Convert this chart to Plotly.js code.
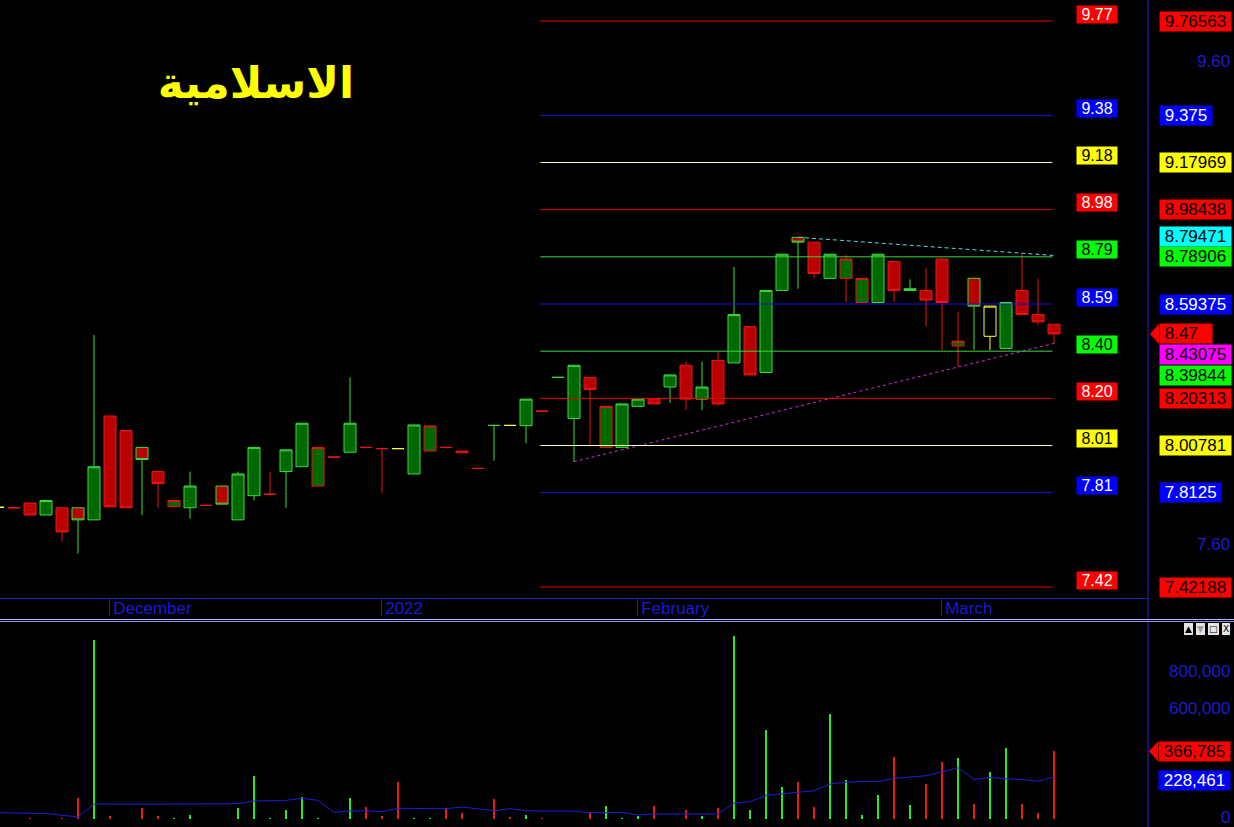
<!DOCTYPE html>
<html>
<head>
<meta charset="utf-8">
<script src="https://cdn.plot.ly/plotly-3.0.1.min.js"></script>
<style>
html,body{margin:0;padding:0;background:#000;}
#chart{width:1234px;height:827px;}
</style>
</head>
<body>
<div id="chart"></div>
<script>
// ---------------- DATA ----------------
const chartTitle = 'الاسلامية';
// trading-session index (one per candle)
const session = Array.from({length: 67}, (_, k) => k - 1);

const openP = [7.752,7.75,7.77,7.72,7.75,7.75,7.70,8.13,8.07,8.00,7.90,7.755,7.75,7.76,7.84,7.70,7.80,7.806,7.90,7.92,7.84,
  7.96,7.98,8.00,7.995,7.995,7.89,7.985,8.00,7.985,7.913,8.091,8.091,8.09,8.15,8.29,8.12,8.29,8.00,8.00,8.17,
  8.20,8.25,8.34,8.20,8.36,8.35,8.50,8.31,8.65,8.87,8.85,8.70,8.70,8.60,8.60,8.77,8.65,8.65,8.78,8.42,
  8.70,8.46,8.41,8.65,8.55,8.51];
const highP = [7.752,7.75,7.77,7.78,7.75,7.75,8.465,8.13,8.07,8.00,7.90,7.78,7.90,7.76,7.84,7.90,8.00,7.90,7.99,8.10,8.00,
  7.96,8.29,8.00,7.995,7.995,8.093,8.089,8.00,7.985,7.913,8.091,8.091,8.20,8.15,8.29,8.34,8.29,8.17,8.18,8.20,
  8.20,8.30,8.355,8.355,8.396,8.748,8.50,8.65,8.80,8.87,8.85,8.80,8.797,8.70,8.80,8.77,8.696,8.742,8.78,8.562,
  8.70,8.585,8.60,8.804,8.698,8.51];
const lowP = [7.752,7.75,7.72,7.72,7.61,7.56,7.70,7.754,7.75,7.72,7.75,7.755,7.705,7.76,7.765,7.70,7.78,7.806,7.75,7.92,7.84,
  7.96,7.98,8.00,7.812,7.995,7.89,7.985,8.00,7.978,7.913,7.945,8.091,8.017,8.15,8.29,7.941,8.003,8.00,8.00,8.17,
  8.18,8.185,8.155,8.155,8.171,8.35,8.30,8.31,8.65,8.657,8.703,8.70,8.601,8.60,8.60,8.603,8.65,8.50,8.403,8.334,
  8.403,8.403,8.41,8.55,8.507,8.431];
const closeP = [7.752,7.75,7.72,7.78,7.65,7.70,7.92,7.754,7.75,7.95,7.85,7.78,7.84,7.76,7.765,7.89,8.00,7.806,7.99,8.10,8.00,
  7.96,8.10,8.00,7.995,7.995,8.093,8.089,8.00,7.978,7.913,8.091,8.091,8.20,8.15,8.29,8.34,8.24,8.17,8.18,8.20,
  8.18,8.30,8.20,8.25,8.18,8.55,8.30,8.65,8.80,8.85,8.72,8.80,8.78,8.70,8.80,8.65,8.657,8.61,8.60,8.44,
  8.585,8.585,8.60,8.55,8.52,8.47];

const volume = [0,0,7000,0,7000,115000,968000,18000,0,58000,18000,3000,22000,0,0,61000,234000,8000,49000,121000,3000,
  0,115000,67000,18000,202000,5000,5000,61000,34000,2000,108000,12000,22000,3000,0,0,40000,70000,4000,18000,
  72000,0,49000,18000,58000,991000,49000,481000,175000,200000,67000,568000,211000,22000,131000,337000,76000,189000,310000,332000,
  81000,252000,386000,81000,31000,366785];
const volumeRising = [0,0,0,0,0,0,1,0,0,0,0,1,1,0,0,1,1,1,1,1,1,
  0,1,0,0,0,1,1,0,0,0,0,0,1,0,0,0,0,1,1,1,
  0,0,0,1,0,1,1,1,1,0,0,1,1,1,1,0,1,0,0,1,
  0,1,1,0,0,0];
const volumeAvg = [34000,34000,34000,30000,20000,12000,81000,80000,80000,80000,80000,81000,81000,80000,79000,83000,97000,99000,101000,112000,101000,
  36000,43000,45000,40000,58000,56000,56000,56000,65000,56000,45000,56000,45000,43000,43000,43000,34000,34000,36000,22000,
  27000,27000,27000,27000,27000,86000,94000,128000,135000,146000,153000,189000,200000,202000,202000,220000,229000,234000,256000,277000,
  214000,225000,218000,214000,204000,228461];

// Fibonacci levels drawn on the right part of the chart
const fibLevels = [9.76563, 9.375, 9.17969, 8.98438, 8.78906, 8.59375, 8.39844, 8.20313, 8.00781, 7.8125, 7.42188];
const fibHue    = ['red','blue','yellow','red','green','blue','green','red','yellow','blue','red'];
const fibFrom = 32.9, fibTo = 64.9;

// trend lines
const resistX = [49, 65], resistY = [8.87, 8.79471];
const supportX = [35, 65], supportY = [7.941, 8.43075];

const lastPrice = 8.47;
const lastVolume = 366785;
const lastVolumeAvg = 228461;

const monthTickAt = [5.95, 22.95, 38.95, 57.95];
const monthLabels = ['December', '2022', 'February', 'March'];
const priceTickVals = [9.60, 7.60];
const volumeTickVals = [800000, 600000, 0];

// ---------------- STYLE ----------------
const FONT = 'Liberation Sans, Arial, sans-serif';
const AXIS_BLUE = '#1c1cc8';
const lineCol = {red:'#f00000', blue:'#1414d8', yellow:'#ffffb0', green:'#3ad83a', cyan:'#00ffff', magenta:'#ff00ff'};
const boxCol  = {red:'#ff0000', blue:'#0000ff', yellow:'#ffff00', green:'#00ff00', cyan:'#00ffff', magenta:'#ff00ff'};
const candleFill = {up:'#006800', down:'#b80000', flat:'#000000'};
const candleEdge = {up:'#3cdc3c', down:'#ee1414', flat:'#ffff30'};

const xRange = [-0.875, 70.875];
const xDom = [0, 1148/1234];
const priceRange = [7.3764, 9.8526];
const volRange = [-43000, 1065000];

// ---------------- CANDLE TRACES (grouped by colour scheme) ----------------
const groups = {};
for (let k = 0; k < session.length; k++) {
  const prev = k > 0 ? closeP[k-1] : closeP[k];
  const edge = closeP[k] > prev ? 'up' : (closeP[k] < prev ? 'down' : 'flat');
  let fill = closeP[k] > openP[k] ? 'up' : (closeP[k] < openP[k] ? 'down' : edge);
  if (edge === 'flat') fill = 'flat';
  const key = edge + '|' + fill;
  if (!groups[key]) groups[key] = {x:[],open:[],high:[],low:[],close:[],edge:edge,fill:fill};
  const g = groups[key];
  g.x.push(session[k]); g.open.push(openP[k]); g.high.push(highP[k]); g.low.push(lowP[k]); g.close.push(closeP[k]);
}
const traces = [];
Object.values(groups).forEach(g => {
  const st = {line:{color:candleEdge[g.edge], width:1}, fillcolor:candleFill[g.fill]};
  traces.push({type:'candlestick', x:g.x, open:g.open, high:g.high, low:g.low, close:g.close,
    increasing:st, decreasing:st, whiskerwidth:0, xaxis:'x', yaxis:'y', showlegend:false, hoverinfo:'skip'});
});

// trend lines
traces.push({type:'scatter', mode:'lines', x:resistX, y:resistY, line:{color:'#55dddd', width:1, dash:'4px,3px'},
  xaxis:'x', yaxis:'y', showlegend:false, hoverinfo:'skip'});
traces.push({type:'scatter', mode:'lines', x:supportX, y:supportY, line:{color:'#d030d0', width:1, dash:'3px,3px'},
  xaxis:'x', yaxis:'y', showlegend:false, hoverinfo:'skip'});

// volume bars
traces.push({type:'bar', x:session, y:volume, width:0.17,
  marker:{color:volumeRising.map(u => u ? '#2ee82e' : '#ea1a1a'), line:{width:0}},
  xaxis:'x2', yaxis:'y2', showlegend:false, hoverinfo:'skip'});
traces.push({type:'scatter', mode:'lines', x:session, y:volumeAvg, line:{color:'#1e1ed2', width:1},
  xaxis:'x2', yaxis:'y2', showlegend:false, hoverinfo:'skip'});

// ---------------- SHAPES ----------------
const shapes = [];
fibLevels.forEach((v, k) => {
  shapes.push({type:'line', xref:'x', yref:'y', x0:fibFrom, x1:fibTo, y0:v, y1:v,
    line:{color:lineCol[fibHue[k]], width:1}});
});
// separators
shapes.push({type:'line', xref:'paper', yref:'paper', x0:1148/1234, x1:1148/1234, y0:0, y1:1, line:{color:'#2424c8', width:1}});
shapes.push({type:'line', xref:'paper', yref:'paper', x0:0, x1:1, y0:1-619.5/827, y1:1-619.5/827, line:{color:'#b4b4ff', width:1}});
shapes.push({type:'line', xref:'paper', yref:'paper', x0:0, x1:1, y0:1-621.5/827, y1:1-621.5/827, line:{color:'#8c8cf0', width:1}});
// arrow tips for last-value markers
shapes.push({type:'path', xref:'paper', xsizemode:'pixel', xanchor:1159/1234, yref:'y', ysizemode:'pixel', yanchor:lastPrice,
  path:'M 0 -10 L -9 0 L 0 10 Z', fillcolor:'#ff0000', line:{width:0}});
shapes.push({type:'path', xref:'paper', xsizemode:'pixel', xanchor:1158/1234, yref:'y2', ysizemode:'pixel', yanchor:lastVolume,
  path:'M 0 -10 L -9 0 L 0 10 Z', fillcolor:'#ff0000', line:{width:0}});

// ---------------- ANNOTATIONS ----------------
const NB = '\u00A0';
const ann = [];
function box(text, xref, x, xanchor, yref, y, bg, fg, size, yshift) {
  ann.push({text:text, xref:xref, x:x, xanchor:xanchor, yref:yref, y:y, yanchor:'middle', yshift:yshift||0,
    showarrow:false, bgcolor:bg, borderpad:0, font:{family:FONT, size:size, color:fg}});
}
// left labels on the fib lines
fibLevels.forEach((v, k) => {
  const h = fibHue[k];
  const fg = (h === 'yellow' || h === 'green') ? '#000' : '#fff';
  box(NB + v.toFixed(2) + NB, 'x', 67.7, 'center', 'y', v, boxCol[h], fg, 16, 7);
});
// right axis plain ticks
priceTickVals.forEach(v => box(v.toFixed(2), 'paper', 1231/1234, 'right', 'y', v, 'rgba(0,0,0,0)', AXIS_BLUE, 17, 0));
// right axis value boxes
const rightX = 1159/1234;
const rightBoxes = fibLevels.map((v, k) => ({v:v, hue:fibHue[k], shift:0}));
rightBoxes.push({v:resistY[1], hue:'cyan', shift:19});
rightBoxes.push({v:supportY[1], hue:'magenta', shift:-11});
rightBoxes.forEach(b => {
  let s = b.shift;
  if (b.v === 8.39844) s = -24;
  const fg = b.hue === 'blue' ? '#fff' : '#000';
  box(NB + String(b.v) + NB, 'paper', rightX, 'left', 'y', b.v, boxCol[b.hue], fg, 17, s);
});
box(NB + lastPrice.toFixed(2) + NB + NB + NB, 'paper', rightX, 'left', 'y', lastPrice, '#ff0000', '#000', 17, 0);

// volume axis
volumeTickVals.forEach(v => box(v.toLocaleString('en-US'), 'paper', 1231/1234, 'right', 'y2', v, 'rgba(0,0,0,0)', AXIS_BLUE, 17, v === 0 ? 2 : 0));
box(NB + lastVolume.toLocaleString('en-US') + NB, 'paper', 1158/1234, 'left', 'y2', lastVolume, '#ff0000', '#000', 17, 0);
box(NB + lastVolumeAvg.toLocaleString('en-US') + NB, 'paper', 1158/1234, 'left', 'y2', lastVolumeAvg, '#0000ff', '#fff', 17, -4);

// window buttons
['▲','▼','□','X'].forEach((t, k) => {
  ann.push({text:t, xref:'paper', yref:'paper', x:(1188 + k*12.5)/1234, y:1-629/827, xanchor:'center', yanchor:'middle',
    showarrow:false, bgcolor:'#e4e4e4', bordercolor:'#777', borderwidth:0, borderpad:1,
    font:{family:'DejaVu Sans, sans-serif', size:9, color: k===1 ? '#999' : '#000'}});
});

// ---------------- LAYOUT ----------------
const layout = {
  width:1234, height:827,
  paper_bgcolor:'#000', plot_bgcolor:'#000',
  margin:{l:0, r:0, t:0, b:0, pad:0},
  showlegend:false,
  hovermode:false,
  boxgap:0.25, boxgroupgap:0,
  bargap:0,
  title:{text:chartTitle, font:{family:'DejaVu Sans, sans-serif', size:44, weight:'bold', color:'#ffff00'},
    x:256/1234, xanchor:'center', xref:'container', y:1-83/827, yanchor:'middle', yref:'container'},
  xaxis:{domain:xDom, range:xRange, anchor:'y', showgrid:false, zeroline:false,
    showline:true, linecolor:'#2222c0', linewidth:1,
    tickmode:'array', tickvals:monthTickAt, ticktext:monthLabels,
    ticks:'outside', ticklen:17, tickwidth:1, tickcolor:'#2222c0',
    ticklabelposition:'outside right', ticklabelstandoff:-5, ticklabelshift:3,
    tickfont:{family:FONT, size:17, color:'#1a1ad0'},
    rangeslider:{visible:false}, fixedrange:true},
  yaxis:{domain:[1-598/827, 1], range:priceRange, anchor:'x', side:'right', showgrid:false, zeroline:false,
    showline:false, showticklabels:false, ticks:'', fixedrange:true},
  xaxis2:{domain:xDom, range:xRange, anchor:'y2', visible:false, fixedrange:true},
  yaxis2:{domain:[0, 205/827], range:volRange, anchor:'x2', side:'right', showgrid:false, zeroline:false,
    showline:false, showticklabels:false, ticks:'', fixedrange:true},
  shapes:shapes,
  annotations:ann
};

Plotly.newPlot('chart', traces, layout, {staticPlot:true, displayModeBar:false});
</script>
</body>
</html>
